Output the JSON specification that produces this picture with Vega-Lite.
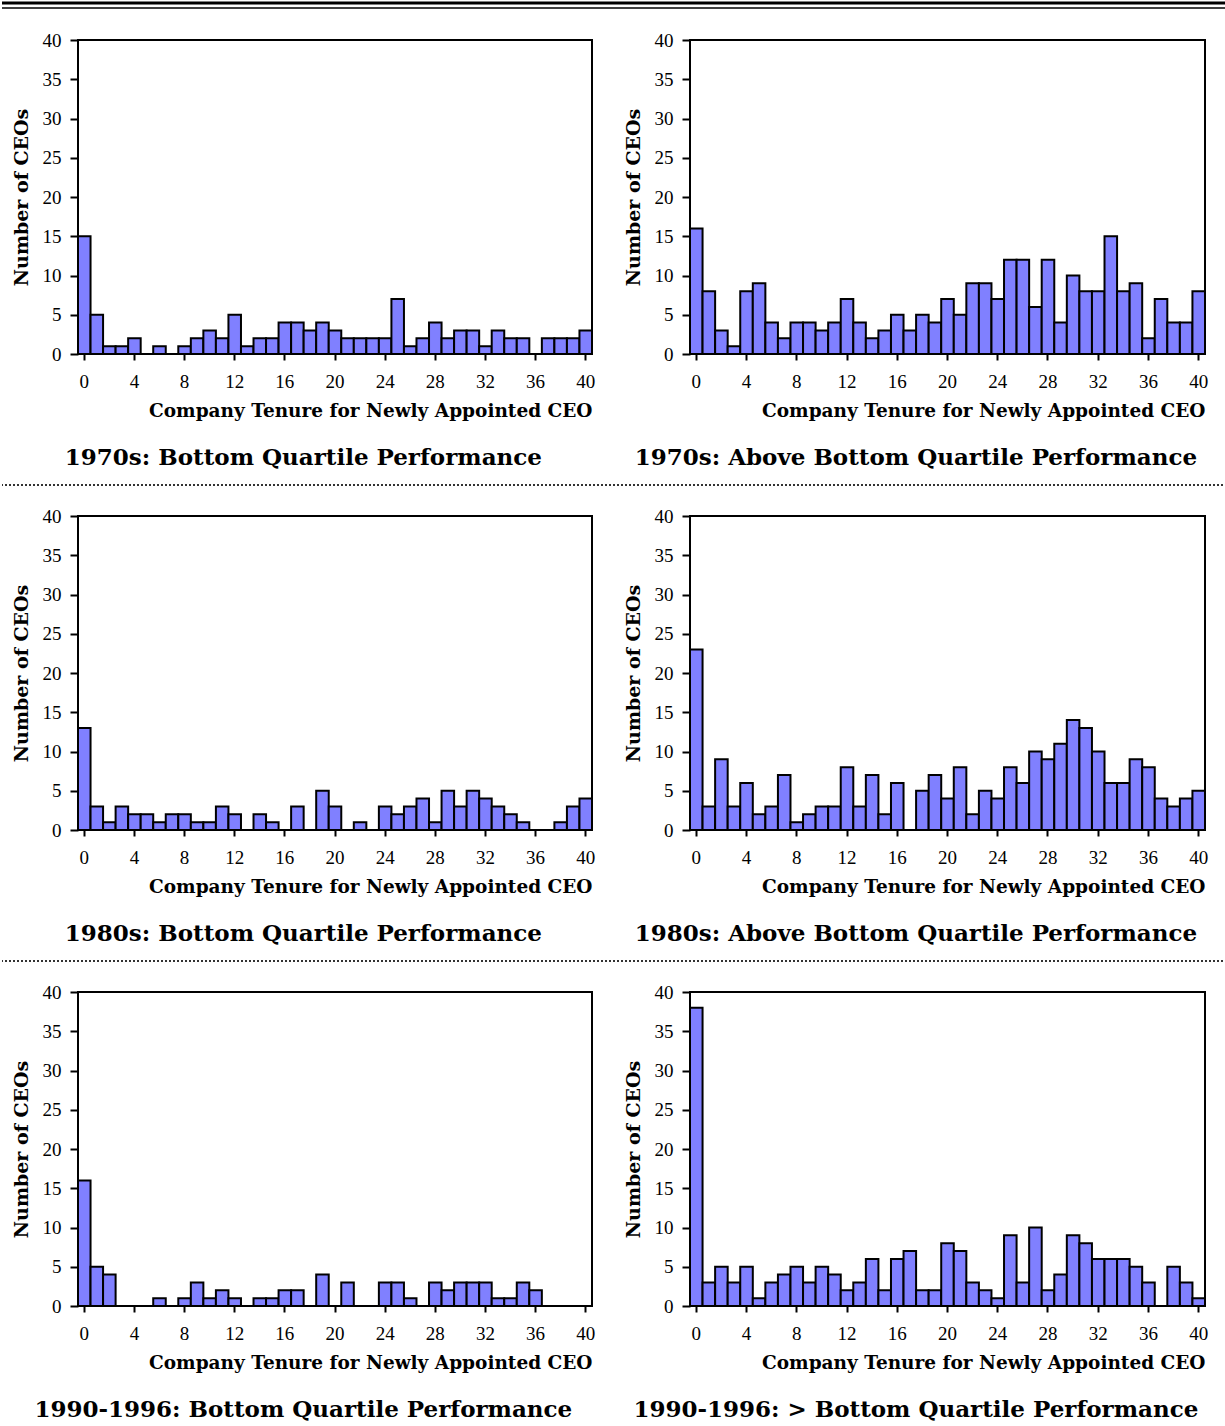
{
  "$schema": "https://vega.github.io/schema/vega-lite/v6.json",
  "padding": 0,
  "background": "white",
  "datasets": {
    "p70b": [{"tenure":0,"ceos":15},{"tenure":1,"ceos":5},{"tenure":2,"ceos":1},{"tenure":3,"ceos":1},{"tenure":4,"ceos":2},{"tenure":5,"ceos":0},{"tenure":6,"ceos":1},{"tenure":7,"ceos":0},{"tenure":8,"ceos":1},{"tenure":9,"ceos":2},{"tenure":10,"ceos":3},{"tenure":11,"ceos":2},{"tenure":12,"ceos":5},{"tenure":13,"ceos":1},{"tenure":14,"ceos":2},{"tenure":15,"ceos":2},{"tenure":16,"ceos":4},{"tenure":17,"ceos":4},{"tenure":18,"ceos":3},{"tenure":19,"ceos":4},{"tenure":20,"ceos":3},{"tenure":21,"ceos":2},{"tenure":22,"ceos":2},{"tenure":23,"ceos":2},{"tenure":24,"ceos":2},{"tenure":25,"ceos":7},{"tenure":26,"ceos":1},{"tenure":27,"ceos":2},{"tenure":28,"ceos":4},{"tenure":29,"ceos":2},{"tenure":30,"ceos":3},{"tenure":31,"ceos":3},{"tenure":32,"ceos":1},{"tenure":33,"ceos":3},{"tenure":34,"ceos":2},{"tenure":35,"ceos":2},{"tenure":36,"ceos":0},{"tenure":37,"ceos":2},{"tenure":38,"ceos":2},{"tenure":39,"ceos":2},{"tenure":40,"ceos":3}],
    "p70a": [{"tenure":0,"ceos":16},{"tenure":1,"ceos":8},{"tenure":2,"ceos":3},{"tenure":3,"ceos":1},{"tenure":4,"ceos":8},{"tenure":5,"ceos":9},{"tenure":6,"ceos":4},{"tenure":7,"ceos":2},{"tenure":8,"ceos":4},{"tenure":9,"ceos":4},{"tenure":10,"ceos":3},{"tenure":11,"ceos":4},{"tenure":12,"ceos":7},{"tenure":13,"ceos":4},{"tenure":14,"ceos":2},{"tenure":15,"ceos":3},{"tenure":16,"ceos":5},{"tenure":17,"ceos":3},{"tenure":18,"ceos":5},{"tenure":19,"ceos":4},{"tenure":20,"ceos":7},{"tenure":21,"ceos":5},{"tenure":22,"ceos":9},{"tenure":23,"ceos":9},{"tenure":24,"ceos":7},{"tenure":25,"ceos":12},{"tenure":26,"ceos":12},{"tenure":27,"ceos":6},{"tenure":28,"ceos":12},{"tenure":29,"ceos":4},{"tenure":30,"ceos":10},{"tenure":31,"ceos":8},{"tenure":32,"ceos":8},{"tenure":33,"ceos":15},{"tenure":34,"ceos":8},{"tenure":35,"ceos":9},{"tenure":36,"ceos":2},{"tenure":37,"ceos":7},{"tenure":38,"ceos":4},{"tenure":39,"ceos":4},{"tenure":40,"ceos":8}],
    "p80b": [{"tenure":0,"ceos":13},{"tenure":1,"ceos":3},{"tenure":2,"ceos":1},{"tenure":3,"ceos":3},{"tenure":4,"ceos":2},{"tenure":5,"ceos":2},{"tenure":6,"ceos":1},{"tenure":7,"ceos":2},{"tenure":8,"ceos":2},{"tenure":9,"ceos":1},{"tenure":10,"ceos":1},{"tenure":11,"ceos":3},{"tenure":12,"ceos":2},{"tenure":13,"ceos":0},{"tenure":14,"ceos":2},{"tenure":15,"ceos":1},{"tenure":16,"ceos":0},{"tenure":17,"ceos":3},{"tenure":18,"ceos":0},{"tenure":19,"ceos":5},{"tenure":20,"ceos":3},{"tenure":21,"ceos":0},{"tenure":22,"ceos":1},{"tenure":23,"ceos":0},{"tenure":24,"ceos":3},{"tenure":25,"ceos":2},{"tenure":26,"ceos":3},{"tenure":27,"ceos":4},{"tenure":28,"ceos":1},{"tenure":29,"ceos":5},{"tenure":30,"ceos":3},{"tenure":31,"ceos":5},{"tenure":32,"ceos":4},{"tenure":33,"ceos":3},{"tenure":34,"ceos":2},{"tenure":35,"ceos":1},{"tenure":36,"ceos":0},{"tenure":37,"ceos":0},{"tenure":38,"ceos":1},{"tenure":39,"ceos":3},{"tenure":40,"ceos":4}],
    "p80a": [{"tenure":0,"ceos":23},{"tenure":1,"ceos":3},{"tenure":2,"ceos":9},{"tenure":3,"ceos":3},{"tenure":4,"ceos":6},{"tenure":5,"ceos":2},{"tenure":6,"ceos":3},{"tenure":7,"ceos":7},{"tenure":8,"ceos":1},{"tenure":9,"ceos":2},{"tenure":10,"ceos":3},{"tenure":11,"ceos":3},{"tenure":12,"ceos":8},{"tenure":13,"ceos":3},{"tenure":14,"ceos":7},{"tenure":15,"ceos":2},{"tenure":16,"ceos":6},{"tenure":17,"ceos":0},{"tenure":18,"ceos":5},{"tenure":19,"ceos":7},{"tenure":20,"ceos":4},{"tenure":21,"ceos":8},{"tenure":22,"ceos":2},{"tenure":23,"ceos":5},{"tenure":24,"ceos":4},{"tenure":25,"ceos":8},{"tenure":26,"ceos":6},{"tenure":27,"ceos":10},{"tenure":28,"ceos":9},{"tenure":29,"ceos":11},{"tenure":30,"ceos":14},{"tenure":31,"ceos":13},{"tenure":32,"ceos":10},{"tenure":33,"ceos":6},{"tenure":34,"ceos":6},{"tenure":35,"ceos":9},{"tenure":36,"ceos":8},{"tenure":37,"ceos":4},{"tenure":38,"ceos":3},{"tenure":39,"ceos":4},{"tenure":40,"ceos":5}],
    "p90b": [{"tenure":0,"ceos":16},{"tenure":1,"ceos":5},{"tenure":2,"ceos":4},{"tenure":3,"ceos":0},{"tenure":4,"ceos":0},{"tenure":5,"ceos":0},{"tenure":6,"ceos":1},{"tenure":7,"ceos":0},{"tenure":8,"ceos":1},{"tenure":9,"ceos":3},{"tenure":10,"ceos":1},{"tenure":11,"ceos":2},{"tenure":12,"ceos":1},{"tenure":13,"ceos":0},{"tenure":14,"ceos":1},{"tenure":15,"ceos":1},{"tenure":16,"ceos":2},{"tenure":17,"ceos":2},{"tenure":18,"ceos":0},{"tenure":19,"ceos":4},{"tenure":20,"ceos":0},{"tenure":21,"ceos":3},{"tenure":22,"ceos":0},{"tenure":23,"ceos":0},{"tenure":24,"ceos":3},{"tenure":25,"ceos":3},{"tenure":26,"ceos":1},{"tenure":27,"ceos":0},{"tenure":28,"ceos":3},{"tenure":29,"ceos":2},{"tenure":30,"ceos":3},{"tenure":31,"ceos":3},{"tenure":32,"ceos":3},{"tenure":33,"ceos":1},{"tenure":34,"ceos":1},{"tenure":35,"ceos":3},{"tenure":36,"ceos":2},{"tenure":37,"ceos":0},{"tenure":38,"ceos":0},{"tenure":39,"ceos":0},{"tenure":40,"ceos":0}],
    "p90a": [{"tenure":0,"ceos":38},{"tenure":1,"ceos":3},{"tenure":2,"ceos":5},{"tenure":3,"ceos":3},{"tenure":4,"ceos":5},{"tenure":5,"ceos":1},{"tenure":6,"ceos":3},{"tenure":7,"ceos":4},{"tenure":8,"ceos":5},{"tenure":9,"ceos":3},{"tenure":10,"ceos":5},{"tenure":11,"ceos":4},{"tenure":12,"ceos":2},{"tenure":13,"ceos":3},{"tenure":14,"ceos":6},{"tenure":15,"ceos":2},{"tenure":16,"ceos":6},{"tenure":17,"ceos":7},{"tenure":18,"ceos":2},{"tenure":19,"ceos":2},{"tenure":20,"ceos":8},{"tenure":21,"ceos":7},{"tenure":22,"ceos":3},{"tenure":23,"ceos":2},{"tenure":24,"ceos":1},{"tenure":25,"ceos":9},{"tenure":26,"ceos":3},{"tenure":27,"ceos":10},{"tenure":28,"ceos":2},{"tenure":29,"ceos":4},{"tenure":30,"ceos":9},{"tenure":31,"ceos":8},{"tenure":32,"ceos":6},{"tenure":33,"ceos":6},{"tenure":34,"ceos":6},{"tenure":35,"ceos":5},{"tenure":36,"ceos":3},{"tenure":37,"ceos":0},{"tenure":38,"ceos":5},{"tenure":39,"ceos":3},{"tenure":40,"ceos":1}]
  },
  "config": {
    "view": {"stroke": null},
    "axis": {"domain": false, "grid": false, "tickColor": "black", "tickWidth": 2, "labelFont": "Liberation Serif", "labelFontSize": 19, "labelColor": "black", "titleFont": "DejaVu Serif", "titleFontWeight": "bold", "titleFontSize": 18.5, "titleColor": "black"},
    "title": {"font": "DejaVu Serif", "fontSize": 23, "fontWeight": "bold", "color": "black", "orient": "bottom", "anchor": "middle", "frame": "bounds", "offset": 27}
  },
  "vconcat": [
    {
      "width": 1225, "height": 9,
      "data": {"values": [{"line": "top"}]},
      "layer": [
        {"mark": {"type": "rule", "color": "black", "strokeWidth": 3}, "encoding": {"y": {"datum": 6, "type": "quantitative", "scale": {"domain": [0, 9]}, "axis": null}}},
        {"mark": {"type": "rule", "color": "black", "strokeWidth": 1.5}, "encoding": {"y": {"datum": 1, "type": "quantitative", "scale": {"domain": [0, 9]}, "axis": null}}}
      ]
    },
    {
      "hconcat": [
        {"width": 76, "height": 5, "data": {"values": []}, "mark": "point", "encoding": {}},
        {
          "hconcat": [
            {"width": 514, "height": 314, "view": {"stroke": "black", "strokeWidth": 2}, "title": "1970s: Bottom Quartile Performance", "data": {"name": "p70b"},
             "mark": {"type": "bar", "fill": "#8080ff", "stroke": "black", "strokeWidth": 2},
             "encoding": {
               "x": {"field": "tenure", "type": "ordinal", "scale": {"domain": [0,1,2,3,4,5,6,7,8,9,10,11,12,13,14,15,16,17,18,19,20,21,22,23,24,25,26,27,28,29,30,31,32,33,34,35,36,37,38,39,40], "paddingInner": 0, "paddingOuter": 0}, "axis": {"values": [0,4,8,12,16,20,24,28,32,36,40], "labelAngle": 0, "tickSize": 6, "labelPadding": 12, "title": "Company Tenure for Newly Appointed CEO", "titleAnchor": "end", "titlePadding": 10}},
               "y": {"field": "ceos", "type": "quantitative", "scale": {"domain": [0, 40], "nice": false}, "axis": {"values": [0,5,10,15,20,25,30,35,40], "tickSize": 8, "labelPadding": 9, "title": "Number of CEOs", "titleFontSize": 19, "titlePadding": 11}}
             }},
            {"width": 515, "height": 314, "view": {"stroke": "black", "strokeWidth": 2}, "title": "1970s: Above Bottom Quartile Performance", "data": {"name": "p70a"},
             "mark": {"type": "bar", "fill": "#8080ff", "stroke": "black", "strokeWidth": 2},
             "encoding": {
               "x": {"field": "tenure", "type": "ordinal", "scale": {"domain": [0,1,2,3,4,5,6,7,8,9,10,11,12,13,14,15,16,17,18,19,20,21,22,23,24,25,26,27,28,29,30,31,32,33,34,35,36,37,38,39,40], "paddingInner": 0, "paddingOuter": 0}, "axis": {"values": [0,4,8,12,16,20,24,28,32,36,40], "labelAngle": 0, "tickSize": 6, "labelPadding": 12, "title": "Company Tenure for Newly Appointed CEO", "titleAnchor": "end", "titlePadding": 10}},
               "y": {"field": "ceos", "type": "quantitative", "scale": {"domain": [0, 40], "nice": false}, "axis": {"values": [0,5,10,15,20,25,30,35,40], "tickSize": 8, "labelPadding": 9, "title": "Number of CEOs", "titleFontSize": 19, "titlePadding": 11}}
             }}
          ],
          "spacing": 98, "bounds": "flush"
        }
      ],
      "spacing": 0, "bounds": "flush"
    },
    {
      "width": 1225, "height": 414,
      "data": {"values": [{"line": "separator"}]},
      "mark": {"type": "rule", "color": "#333333", "strokeWidth": 2, "strokeDash": [2, 2]},
      "encoding": {"y": {"datum": 0, "type": "quantitative", "scale": {"domain": [0, 1]}, "axis": null}}
    },
    {
      "hconcat": [
        {"width": 76, "height": 5, "data": {"values": []}, "mark": "point", "encoding": {}},
        {
          "hconcat": [
            {"width": 514, "height": 314, "view": {"stroke": "black", "strokeWidth": 2}, "title": "1980s: Bottom Quartile Performance", "data": {"name": "p80b"},
             "mark": {"type": "bar", "fill": "#8080ff", "stroke": "black", "strokeWidth": 2},
             "encoding": {
               "x": {"field": "tenure", "type": "ordinal", "scale": {"domain": [0,1,2,3,4,5,6,7,8,9,10,11,12,13,14,15,16,17,18,19,20,21,22,23,24,25,26,27,28,29,30,31,32,33,34,35,36,37,38,39,40], "paddingInner": 0, "paddingOuter": 0}, "axis": {"values": [0,4,8,12,16,20,24,28,32,36,40], "labelAngle": 0, "tickSize": 6, "labelPadding": 12, "title": "Company Tenure for Newly Appointed CEO", "titleAnchor": "end", "titlePadding": 10}},
               "y": {"field": "ceos", "type": "quantitative", "scale": {"domain": [0, 40], "nice": false}, "axis": {"values": [0,5,10,15,20,25,30,35,40], "tickSize": 8, "labelPadding": 9, "title": "Number of CEOs", "titleFontSize": 19, "titlePadding": 11}}
             }},
            {"width": 515, "height": 314, "view": {"stroke": "black", "strokeWidth": 2}, "title": "1980s: Above Bottom Quartile Performance", "data": {"name": "p80a"},
             "mark": {"type": "bar", "fill": "#8080ff", "stroke": "black", "strokeWidth": 2},
             "encoding": {
               "x": {"field": "tenure", "type": "ordinal", "scale": {"domain": [0,1,2,3,4,5,6,7,8,9,10,11,12,13,14,15,16,17,18,19,20,21,22,23,24,25,26,27,28,29,30,31,32,33,34,35,36,37,38,39,40], "paddingInner": 0, "paddingOuter": 0}, "axis": {"values": [0,4,8,12,16,20,24,28,32,36,40], "labelAngle": 0, "tickSize": 6, "labelPadding": 12, "title": "Company Tenure for Newly Appointed CEO", "titleAnchor": "end", "titlePadding": 10}},
               "y": {"field": "ceos", "type": "quantitative", "scale": {"domain": [0, 40], "nice": false}, "axis": {"values": [0,5,10,15,20,25,30,35,40], "tickSize": 8, "labelPadding": 9, "title": "Number of CEOs", "titleFontSize": 19, "titlePadding": 11}}
             }}
          ],
          "spacing": 98, "bounds": "flush"
        }
      ],
      "spacing": 0, "bounds": "flush"
    },
    {
      "width": 1225, "height": 414,
      "data": {"values": [{"line": "separator"}]},
      "mark": {"type": "rule", "color": "#333333", "strokeWidth": 2, "strokeDash": [2, 2]},
      "encoding": {"y": {"datum": 0, "type": "quantitative", "scale": {"domain": [0, 1]}, "axis": null}}
    },
    {
      "hconcat": [
        {"width": 76, "height": 5, "data": {"values": []}, "mark": "point", "encoding": {}},
        {
          "hconcat": [
            {"width": 514, "height": 314, "view": {"stroke": "black", "strokeWidth": 2}, "title": "1990-1996: Bottom Quartile Performance", "data": {"name": "p90b"},
             "mark": {"type": "bar", "fill": "#8080ff", "stroke": "black", "strokeWidth": 2},
             "encoding": {
               "x": {"field": "tenure", "type": "ordinal", "scale": {"domain": [0,1,2,3,4,5,6,7,8,9,10,11,12,13,14,15,16,17,18,19,20,21,22,23,24,25,26,27,28,29,30,31,32,33,34,35,36,37,38,39,40], "paddingInner": 0, "paddingOuter": 0}, "axis": {"values": [0,4,8,12,16,20,24,28,32,36,40], "labelAngle": 0, "tickSize": 6, "labelPadding": 12, "title": "Company Tenure for Newly Appointed CEO", "titleAnchor": "end", "titlePadding": 10}},
               "y": {"field": "ceos", "type": "quantitative", "scale": {"domain": [0, 40], "nice": false}, "axis": {"values": [0,5,10,15,20,25,30,35,40], "tickSize": 8, "labelPadding": 9, "title": "Number of CEOs", "titleFontSize": 19, "titlePadding": 11}}
             }},
            {"width": 515, "height": 314, "view": {"stroke": "black", "strokeWidth": 2}, "title": "1990-1996: > Bottom Quartile Performance", "data": {"name": "p90a"},
             "mark": {"type": "bar", "fill": "#8080ff", "stroke": "black", "strokeWidth": 2},
             "encoding": {
               "x": {"field": "tenure", "type": "ordinal", "scale": {"domain": [0,1,2,3,4,5,6,7,8,9,10,11,12,13,14,15,16,17,18,19,20,21,22,23,24,25,26,27,28,29,30,31,32,33,34,35,36,37,38,39,40], "paddingInner": 0, "paddingOuter": 0}, "axis": {"values": [0,4,8,12,16,20,24,28,32,36,40], "labelAngle": 0, "tickSize": 6, "labelPadding": 12, "title": "Company Tenure for Newly Appointed CEO", "titleAnchor": "end", "titlePadding": 10}},
               "y": {"field": "ceos", "type": "quantitative", "scale": {"domain": [0, 40], "nice": false}, "axis": {"values": [0,5,10,15,20,25,30,35,40], "tickSize": 8, "labelPadding": 9, "title": "Number of CEOs", "titleFontSize": 19, "titlePadding": 11}}
             }}
          ],
          "spacing": 98, "bounds": "flush"
        }
      ],
      "spacing": 0, "bounds": "flush"
    }
  ],
  "spacing": 31,
  "bounds": "flush"
}
